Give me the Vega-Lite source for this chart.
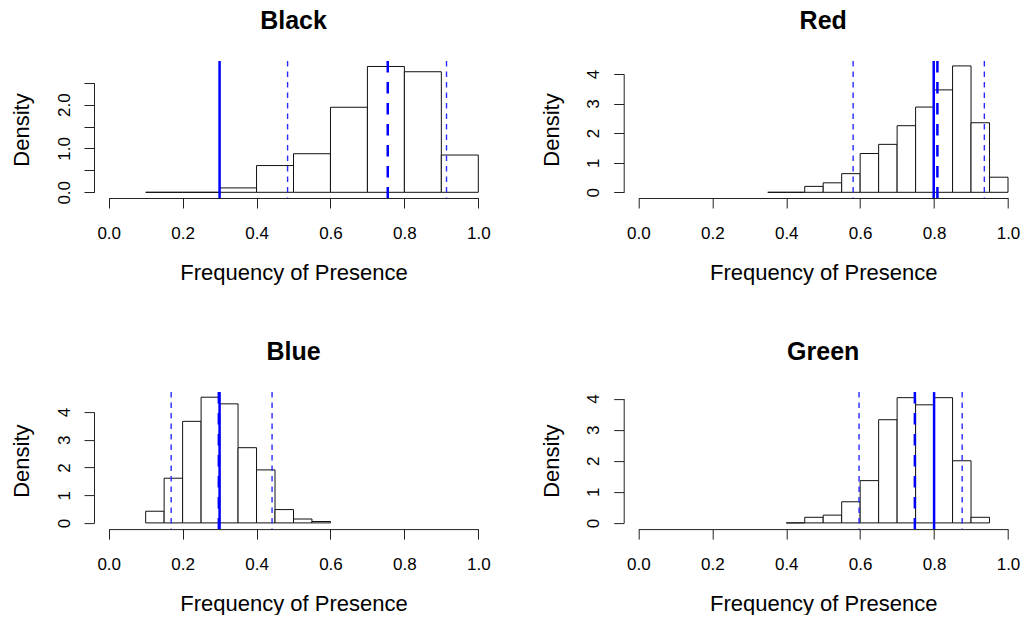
{
  "$schema": "https://vega.github.io/schema/vega-lite/v6.json",
  "background": "white",
  "padding": {"left": 10, "top": 8, "right": 0, "bottom": 0},
  "config": {
    "view": {"stroke": null},
    "font": "Liberation Sans",
    "title": {"font": "Liberation Sans", "fontSize": 25, "fontWeight": "bold", "color": "#000000", "anchor": "middle", "frame": "group", "baseline": "alphabetic", "offset": 26},
    "axis": {"grid": false, "tickSize": 10, "domainColor": "#222222", "tickColor": "#222222", "labelColor": "#000000", "titleColor": "#000000", "labelFont": "Liberation Sans", "titleFont": "Liberation Sans", "labelFontSize": 17, "titleFontSize": 22, "titleFontWeight": "normal", "labelFlush": false, "labelOverlap": false},
    "axisX": {"labelAngle": 0, "labelPadding": 30, "labelBaseline": "alphabetic", "titleBaseline": "alphabetic", "titleY": 81, "titleX": 199.5, "titleAlign": "center"},
    "axisY": {"labelAngle": -90, "labelAlign": "center", "labelBaseline": "alphabetic", "labelPadding": 15, "titleAngle": -90, "titleBaseline": "alphabetic", "titleAlign": "center", "titleX": -65.5, "titleY": 68.5}
  },
  "datasets": {
    "bars": [
      {"panel": "Black", "x0": 0.1, "x1": 0.2, "density": 0},
      {"panel": "Black", "x0": 0.2, "x1": 0.3, "density": 0},
      {"panel": "Black", "x0": 0.3, "x1": 0.4, "density": 0.1},
      {"panel": "Black", "x0": 0.4, "x1": 0.5, "density": 0.61},
      {"panel": "Black", "x0": 0.5, "x1": 0.6, "density": 0.88},
      {"panel": "Black", "x0": 0.6, "x1": 0.7, "density": 1.94},
      {"panel": "Black", "x0": 0.7, "x1": 0.8, "density": 2.87},
      {"panel": "Black", "x0": 0.8, "x1": 0.9, "density": 2.75},
      {"panel": "Black", "x0": 0.9, "x1": 1.0, "density": 0.85},
      {"panel": "Red", "x0": 0.35, "x1": 0.4, "density": 0},
      {"panel": "Red", "x0": 0.4, "x1": 0.45, "density": 0},
      {"panel": "Red", "x0": 0.45, "x1": 0.5, "density": 0.2},
      {"panel": "Red", "x0": 0.5, "x1": 0.55, "density": 0.32},
      {"panel": "Red", "x0": 0.55, "x1": 0.6, "density": 0.63},
      {"panel": "Red", "x0": 0.6, "x1": 0.65, "density": 1.31},
      {"panel": "Red", "x0": 0.65, "x1": 0.7, "density": 1.62},
      {"panel": "Red", "x0": 0.7, "x1": 0.75, "density": 2.25},
      {"panel": "Red", "x0": 0.75, "x1": 0.8, "density": 2.88},
      {"panel": "Red", "x0": 0.8, "x1": 0.85, "density": 3.46},
      {"panel": "Red", "x0": 0.85, "x1": 0.9, "density": 4.27},
      {"panel": "Red", "x0": 0.9, "x1": 0.95, "density": 2.35},
      {"panel": "Red", "x0": 0.95, "x1": 1.0, "density": 0.51},
      {"panel": "Blue", "x0": 0.1, "x1": 0.15, "density": 0.42},
      {"panel": "Blue", "x0": 0.15, "x1": 0.2, "density": 1.61},
      {"panel": "Blue", "x0": 0.2, "x1": 0.25, "density": 3.66},
      {"panel": "Blue", "x0": 0.25, "x1": 0.3, "density": 4.53},
      {"panel": "Blue", "x0": 0.3, "x1": 0.35, "density": 4.29},
      {"panel": "Blue", "x0": 0.35, "x1": 0.4, "density": 2.71},
      {"panel": "Blue", "x0": 0.4, "x1": 0.45, "density": 1.91},
      {"panel": "Blue", "x0": 0.45, "x1": 0.5, "density": 0.48},
      {"panel": "Blue", "x0": 0.5, "x1": 0.55, "density": 0.14},
      {"panel": "Blue", "x0": 0.55, "x1": 0.6, "density": 0.05},
      {"panel": "Green", "x0": 0.4, "x1": 0.45, "density": 0},
      {"panel": "Green", "x0": 0.45, "x1": 0.5, "density": 0.18},
      {"panel": "Green", "x0": 0.5, "x1": 0.55, "density": 0.25},
      {"panel": "Green", "x0": 0.55, "x1": 0.6, "density": 0.68},
      {"panel": "Green", "x0": 0.6, "x1": 0.65, "density": 1.36},
      {"panel": "Green", "x0": 0.65, "x1": 0.7, "density": 3.32},
      {"panel": "Green", "x0": 0.7, "x1": 0.75, "density": 4.03},
      {"panel": "Green", "x0": 0.75, "x1": 0.8, "density": 3.8},
      {"panel": "Green", "x0": 0.8, "x1": 0.85, "density": 4.03},
      {"panel": "Green", "x0": 0.85, "x1": 0.9, "density": 2.0},
      {"panel": "Green", "x0": 0.9, "x1": 0.95, "density": 0.18}
    ],
    "lines": [
      {"panel": "Black", "kind": "true", "x": 0.3},
      {"panel": "Black", "kind": "mean", "x": 0.755},
      {"panel": "Black", "kind": "quantile", "x": 0.484},
      {"panel": "Black", "kind": "quantile", "x": 0.914},
      {"panel": "Red", "kind": "true", "x": 0.799},
      {"panel": "Red", "kind": "mean", "x": 0.809},
      {"panel": "Red", "kind": "quantile", "x": 0.581},
      {"panel": "Red", "kind": "quantile", "x": 0.936},
      {"panel": "Blue", "kind": "true", "x": 0.3},
      {"panel": "Blue", "kind": "mean", "x": 0.298},
      {"panel": "Blue", "kind": "quantile", "x": 0.169},
      {"panel": "Blue", "kind": "quantile", "x": 0.442},
      {"panel": "Green", "kind": "true", "x": 0.8},
      {"panel": "Green", "kind": "mean", "x": 0.748},
      {"panel": "Green", "kind": "quantile", "x": 0.597},
      {"panel": "Green", "kind": "quantile", "x": 0.876}
    ]
  },
  "columns": 2,
  "bounds": "flush",
  "spacing": {"row": 194.1, "column": 130.7},
  "concat": [
    {
      "width": 399, "height": 137,
      "title": {"text": "Black"},
      "layer": [
        {"data": {"name": "bars"}, "transform": [{"filter": "datum.panel == 'Black'"}],
         "mark": {"type": "rect", "fill": "white", "stroke": "#111111", "strokeWidth": 1},
         "encoding": {
           "x": {"field": "x0", "type": "quantitative", "scale": {"domain": [0, 1], "range": [14.7, 384.3], "nice": false, "zero": false}, "axis": {"values": [0, 0.2, 0.4, 0.6, 0.8, 1], "format": ".1f", "title": "Frequency of Presence"}},
           "x2": {"field": "x1"},
           "y": {"field": "density", "type": "quantitative", "scale": {"domain": [0, 2.5], "range": [131.3, 21.7], "nice": false, "zero": false}, "axis": {"values": [0, 0.5, 1, 1.5, 2, 2.5], "labelExpr": "datum.value % 1 == 0 ? format(datum.value, '.1f') : ''", "title": "Density"}},
           "y2": {"datum": 0}
         }},
        {"data": {"name": "lines"}, "transform": [{"filter": "datum.panel == 'Black' && datum.kind == 'true'"}],
         "mark": {"type": "rule", "color": "#0000ff", "strokeWidth": 2.5},
         "encoding": {"x": {"field": "x", "type": "quantitative"}}},
        {"data": {"name": "lines"}, "transform": [{"filter": "datum.panel == 'Black' && datum.kind == 'mean'"}],
         "mark": {"type": "rule", "color": "#0000ff", "strokeWidth": 2.5, "strokeDash": [11.5, 9.5]},
         "encoding": {"x": {"field": "x", "type": "quantitative"}}},
        {"data": {"name": "lines"}, "transform": [{"filter": "datum.panel == 'Black' && datum.kind == 'quantile'"}],
         "mark": {"type": "rule", "color": "#2a2aff", "strokeWidth": 1.4, "strokeDash": [5.5, 5]},
         "encoding": {"x": {"field": "x", "type": "quantitative"}}}
      ]
    },
    {
      "width": 399, "height": 137,
      "title": {"text": "Red"},
      "layer": [
        {"data": {"name": "bars"}, "transform": [{"filter": "datum.panel == 'Red'"}],
         "mark": {"type": "rect", "fill": "white", "stroke": "#111111", "strokeWidth": 1},
         "encoding": {
           "x": {"field": "x0", "type": "quantitative", "scale": {"domain": [0, 1], "range": [14.7, 384.3], "nice": false, "zero": false}, "axis": {"values": [0, 0.2, 0.4, 0.6, 0.8, 1], "format": ".1f", "title": "Frequency of Presence"}},
           "x2": {"field": "x1"},
           "y": {"field": "density", "type": "quantitative", "scale": {"domain": [0, 4], "range": [131.3, 12.9], "nice": false, "zero": false}, "axis": {"values": [0, 1, 2, 3, 4], "format": "d", "title": "Density"}},
           "y2": {"datum": 0}
         }},
        {"data": {"name": "lines"}, "transform": [{"filter": "datum.panel == 'Red' && datum.kind == 'true'"}],
         "mark": {"type": "rule", "color": "#0000ff", "strokeWidth": 2.5},
         "encoding": {"x": {"field": "x", "type": "quantitative"}}},
        {"data": {"name": "lines"}, "transform": [{"filter": "datum.panel == 'Red' && datum.kind == 'mean'"}],
         "mark": {"type": "rule", "color": "#0000ff", "strokeWidth": 2.5, "strokeDash": [11.5, 9.5]},
         "encoding": {"x": {"field": "x", "type": "quantitative"}}},
        {"data": {"name": "lines"}, "transform": [{"filter": "datum.panel == 'Red' && datum.kind == 'quantile'"}],
         "mark": {"type": "rule", "color": "#2a2aff", "strokeWidth": 1.4, "strokeDash": [5.5, 5]},
         "encoding": {"x": {"field": "x", "type": "quantitative"}}}
      ]
    },
    {
      "width": 399, "height": 137,
      "title": {"text": "Blue"},
      "layer": [
        {"data": {"name": "bars"}, "transform": [{"filter": "datum.panel == 'Blue'"}],
         "mark": {"type": "rect", "fill": "white", "stroke": "#111111", "strokeWidth": 1},
         "encoding": {
           "x": {"field": "x0", "type": "quantitative", "scale": {"domain": [0, 1], "range": [14.7, 384.3], "nice": false, "zero": false}, "axis": {"values": [0, 0.2, 0.4, 0.6, 0.8, 1], "format": ".1f", "title": "Frequency of Presence"}},
           "x2": {"field": "x1"},
           "y": {"field": "density", "type": "quantitative", "scale": {"domain": [0, 4], "range": [130.8, 19.8], "nice": false, "zero": false}, "axis": {"values": [0, 1, 2, 3, 4], "format": "d", "title": "Density"}},
           "y2": {"datum": 0}
         }},
        {"data": {"name": "lines"}, "transform": [{"filter": "datum.panel == 'Blue' && datum.kind == 'true'"}],
         "mark": {"type": "rule", "color": "#0000ff", "strokeWidth": 2.5},
         "encoding": {"x": {"field": "x", "type": "quantitative"}}},
        {"data": {"name": "lines"}, "transform": [{"filter": "datum.panel == 'Blue' && datum.kind == 'mean'"}],
         "mark": {"type": "rule", "color": "#0000ff", "strokeWidth": 2.5, "strokeDash": [11.5, 9.5]},
         "encoding": {"x": {"field": "x", "type": "quantitative"}}},
        {"data": {"name": "lines"}, "transform": [{"filter": "datum.panel == 'Blue' && datum.kind == 'quantile'"}],
         "mark": {"type": "rule", "color": "#2a2aff", "strokeWidth": 1.4, "strokeDash": [5.5, 5]},
         "encoding": {"x": {"field": "x", "type": "quantitative"}}}
      ]
    },
    {
      "width": 399, "height": 137,
      "title": {"text": "Green"},
      "layer": [
        {"data": {"name": "bars"}, "transform": [{"filter": "datum.panel == 'Green'"}],
         "mark": {"type": "rect", "fill": "white", "stroke": "#111111", "strokeWidth": 1},
         "encoding": {
           "x": {"field": "x0", "type": "quantitative", "scale": {"domain": [0, 1], "range": [14.7, 384.3], "nice": false, "zero": false}, "axis": {"values": [0, 0.2, 0.4, 0.6, 0.8, 1], "format": ".1f", "title": "Frequency of Presence"}},
           "x2": {"field": "x1"},
           "y": {"field": "density", "type": "quantitative", "scale": {"domain": [0, 4], "range": [130.8, 6.5], "nice": false, "zero": false}, "axis": {"values": [0, 1, 2, 3, 4], "format": "d", "title": "Density"}},
           "y2": {"datum": 0}
         }},
        {"data": {"name": "lines"}, "transform": [{"filter": "datum.panel == 'Green' && datum.kind == 'true'"}],
         "mark": {"type": "rule", "color": "#0000ff", "strokeWidth": 2.5},
         "encoding": {"x": {"field": "x", "type": "quantitative"}}},
        {"data": {"name": "lines"}, "transform": [{"filter": "datum.panel == 'Green' && datum.kind == 'mean'"}],
         "mark": {"type": "rule", "color": "#0000ff", "strokeWidth": 2.5, "strokeDash": [11.5, 9.5]},
         "encoding": {"x": {"field": "x", "type": "quantitative"}}},
        {"data": {"name": "lines"}, "transform": [{"filter": "datum.panel == 'Green' && datum.kind == 'quantile'"}],
         "mark": {"type": "rule", "color": "#2a2aff", "strokeWidth": 1.4, "strokeDash": [5.5, 5]},
         "encoding": {"x": {"field": "x", "type": "quantitative"}}}
      ]
    }
  ]
}
